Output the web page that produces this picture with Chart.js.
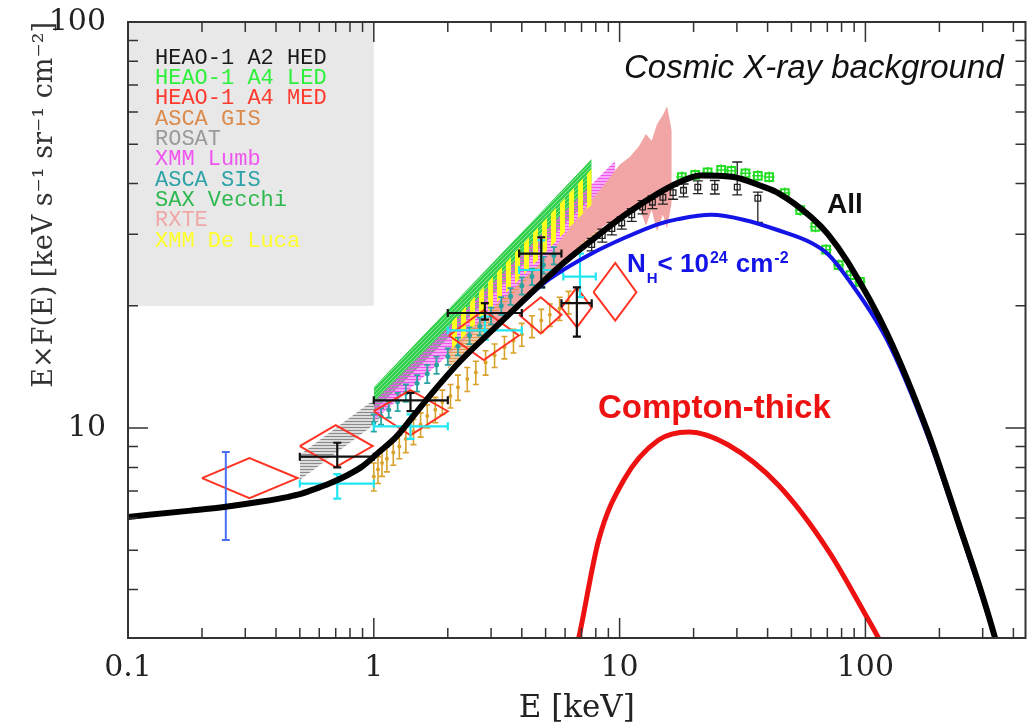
<!DOCTYPE html>
<html>
<head>
<meta charset="utf-8">
<script src="https://cdn.jsdelivr.net/npm/chart.js@4.4.0/dist/chart.umd.min.js"></script>
<style>
  html, body { margin: 0; padding: 0; background: #fff; }
  #wrap { width: 1033px; height: 728px; }
</style>
</head>
<body>
<div id="wrap"><canvas id="mycanvas" width="1033" height="728"></canvas></div>
<script>
// E in keV, E*F(E) in keV s-1 sr-1 cm-2

// model curves
var allE = [0.1, 0.18, 0.25, 0.35, 0.45, 0.5, 0.563, 0.66, 0.773, 0.9, 1.053, 1.23, 1.43, 1.65, 2.22, 3.03, 3.89, 5.65, 7.7, 10.6, 14.4, 17.3, 21.4, 28.6, 38.8, 44.2, 60.1, 70.5, 84.9, 123, 179, 237, 300, 339, 380];
var allF = [6.04, 6.26, 6.40, 6.59, 6.77, 6.87, 7.04, 7.3, 7.63, 8.05, 8.74, 9.5, 10.6, 11.8, 14.5, 17.4, 20.1, 24.9, 29.0, 33.6, 37.9, 40.2, 41.9, 41.6, 39.2, 37.9, 33.1, 30.0, 25.6, 17.0, 9.8, 5.93, 3.85, 3.0, 2.3];

var nhE = [0.1, 0.18, 0.25, 0.35, 0.45, 0.5, 0.563, 0.66, 0.773, 0.9, 1.053, 1.23, 1.43, 1.65, 2.22, 3.03, 3.89, 5.0, 7.7, 10.6, 14.4, 17.3, 23.6, 32.5, 44.2, 60.1, 70.5, 84.9, 123, 179, 237, 300, 339, 380];
var nhF = [6.04, 6.26, 6.40, 6.59, 6.77, 6.87, 7.04, 7.3, 7.63, 8.05, 8.74, 9.5, 10.6, 11.8, 14.5, 17.4, 20.0, 22.9, 26.9, 29.5, 31.8, 32.7, 33.5, 32.5, 30.7, 28.6, 26.8, 23.3, 16.4, 9.6, 5.86, 3.8, 2.98, 2.25];

var ctE = [6.5, 6.82, 8.22, 10.4, 14.4, 19.1, 27.7, 44.2, 70.5, 102, 113, 125];
var ctF = [2.7, 3.04, 5.3, 7.45, 9.34, 9.78, 9.08, 7.24, 5.0, 3.4, 3.04, 2.7];

// shaded power-law bands
var rosatE = [0.5, 1.05], rosatLo = [7.45, 10.4], rosatHi = [8.6, 12.0];
var vecchiE = [1.0, 7.7], vecchiLo = [11.0, 37.0], vecchiHi = [12.6, 46.0];
var delucaE = [2.0, 7.7], delucaLo = [15.3, 35.5], delucaHi = [17.8, 43.5];
var lumbE = [1.0, 9.6], lumbLo = [10.4, 35.0], lumbHi = [11.6, 45.5];
var gisE = [2.0, 8.5], gisLo = [14.0, 31.0], gisHi = [15.5, 35.5];
var rxteE = [3.0, 4.0, 5.0, 6.0, 7.0, 8.0, 9.0, 10.0, 11.0, 12.0, 12.8, 13.5, 14.2, 15.0, 15.6, 16.3];
var rxteLo = [17.0, 20.5, 23.5, 26.0, 28.5, 30.5, 32.0, 33.0, 34.0, 35.0, 31.5, 34.5, 30.5, 33.5, 31.0, 36.0];
var rxteHi = [18.5, 22.5, 26.0, 30.0, 34.0, 37.5, 41.0, 44.5, 46.5, 49.5, 53.0, 51.0, 56.0, 59.0, 62.0, 54.0];

// data points
var goldE = [1.0, 1.04, 1.08, 1.13, 1.2, 1.27, 1.35, 1.45, 1.55, 1.65, 1.78, 1.9, 2.05, 2.2, 2.4, 2.6, 2.85, 3.1, 3.4, 3.7, 4.0, 4.4, 4.8, 5.2, 5.7, 6.2];
var goldF = [7.6, 7.9, 8.2, 8.4, 8.7, 9.0, 9.4, 9.8, 10.2, 10.7, 11.1, 11.6, 12.0, 12.6, 13.2, 13.7, 14.5, 15.1, 15.8, 16.4, 17.0, 17.8, 18.4, 19.0, 19.7, 20.4];
var goldErr = [0.6, 0.6, 0.6, 0.6, 0.6, 0.6, 0.7, 0.7, 0.7, 0.7, 0.8, 0.8, 0.8, 0.9, 0.9, 0.9, 1.0, 1.0, 1.0, 1.1, 1.1, 1.1, 1.2, 1.2, 1.3, 1.3];

var tealE = [1.0, 1.07, 1.15, 1.25, 1.35, 1.5, 1.65, 1.8, 2.0, 2.2, 2.45, 2.7, 3.0, 3.3, 3.6, 4.0, 4.4, 4.9, 5.4];
var tealF = [10.3, 10.7, 11.1, 11.6, 12.2, 12.9, 13.6, 14.3, 15.0, 15.9, 16.9, 17.8, 18.9, 20.0, 21.1, 22.4, 23.6, 25.2, 26.6];
var tealErr = [0.5, 0.5, 0.5, 0.6, 0.6, 0.6, 0.7, 0.7, 0.7, 0.8, 0.8, 0.9, 0.9, 1.0, 1.0, 1.1, 1.1, 1.2, 1.3];

var medE = [0.312, 0.70, 1.41, 2.8, 4.78, 6.7, 9.6];
var medElo = [0.2, 0.5, 1.0, 2.02, 3.9, 5.8, 7.83];
var medEhi = [0.49, 0.99, 2.0, 3.89, 5.8, 7.7, 11.7];
var medF = [7.53, 9.03, 11.0, 16.9, 19.0, 19.8, 21.6];
var medFlo = [6.72, 8.01, 9.6, 14.7, 17.1, 17.7, 18.4];
var medFhi = [8.43, 10.17, 12.4, 19.5, 21.0, 22.2, 25.5];

var crossE = [0.71, 1.41, 2.83, 4.8, 6.7];
var crossElo = [0.5, 1.0, 2.0, 3.9, 5.8];
var crossEhi = [1.0, 2.0, 4.0, 5.8, 7.7];
var crossF = [8.5, 11.7, 19.2, 26.9, 20.3];
var crossFlo = [8.0, 11.0, 18.5, 22.2, 16.8];
var crossFhi = [9.2, 12.2, 20.3, 29.5, 22.2];

var cyanE = [0.71, 1.41, 2.83, 4.8, 6.9];
var cyanElo = [0.5, 1.0, 2.0, 3.9, 5.9];
var cyanEhi = [1.0, 2.0, 4.0, 5.8, 8.0];
var cyanF = [7.3, 10.1, 17.4, 24.5, 23.6];
var cyanFlo = [6.7, 9.4, 16.5, 22.2, 21.0];
var cyanFhi = [7.7, 10.8, 18.8, 29.0, 26.9];

var hedE = [7.7, 8.5, 9.3, 10.2, 11.2, 12.4, 13.6, 15.0, 16.5, 18.2, 20.8, 24.4, 30.1, 36.5];
var hedF = [28.3, 29.8, 31.0, 32.0, 33.5, 35.0, 36.0, 37.0, 38.0, 38.5, 39.2, 39.2, 39.2, 36.8];
var hedFlo = [27.3, 28.7, 29.9, 30.9, 32.3, 33.7, 34.7, 35.6, 36.6, 37.1, 37.8, 37.7, 37.5, 32.1];
var hedFhi = [29.3, 30.9, 32.1, 33.1, 34.7, 36.3, 37.3, 38.4, 39.4, 39.9, 40.6, 40.7, 45.2, 38.1];

var ledE = [17.9, 20.3, 22.8, 25.9, 28.5, 32.5, 36.5, 40.6, 47, 54.3, 62.6, 69.2, 77.8, 87, 95];
var ledF = [41.5, 42.0, 42.6, 43.2, 43.0, 42.4, 41.8, 41.5, 37.9, 34.4, 31.3, 27.5, 25.2, 23.8, 22.9];

var blueE = [0.25], blueF = [6.8], blueFlo = [5.3], blueFhi = [8.73];

var legendNames = ['HEAO-1 A2 HED', 'HEAO-1 A4 LED', 'HEAO-1 A4 MED', 'ASCA GIS', 'ROSAT', 'XMM Lumb', 'ASCA SIS', 'SAX Vecchi', 'RXTE', 'XMM De Luca'];
var legendColors = ['#1a1a1a', '#2ef03a', '#ff3b30', '#dc8a4c', '#9a9a9a', '#f055f0', '#2ea3a8', '#2fb84f', '#f0a8a8', '#ffff2a'];

var xTicks = [0.1, 1, 10, 100];
var yTicks = [10, 100];

function pts(xs, ys) {
  var out = [];
  for (var i = 0; i < xs.length; i++) out.push({x: xs[i], y: ys[i]});
  return out;
}

function diamonds() {
  var out = [];
  for (var i = 0; i < medE.length; i++) {
    out.push({x: medElo[i], y: medF[i]}, {x: medE[i], y: medFhi[i]}, {x: medEhi[i], y: medF[i]},
             {x: medE[i], y: medFlo[i]}, {x: medElo[i], y: medF[i]}, {x: NaN, y: NaN});
  }
  return out;
}

function hatch(color, kind, gap, lw) {
  var c = document.createElement('canvas');
  c.width = gap; c.height = gap;
  var g = c.getContext('2d');
  g.strokeStyle = color; g.lineWidth = lw;
  g.beginPath();
  if (kind === 'h') { g.moveTo(0, gap / 2); g.lineTo(gap, gap / 2); }
  else if (kind === 'v') { g.moveTo(gap / 2, 0); g.lineTo(gap / 2, gap); }
  else {
    g.moveTo(-1, gap + 1); g.lineTo(gap + 1, -1);
    g.moveTo(-1, 1); g.lineTo(1, -1);
    g.moveTo(gap - 1, gap + 1); g.lineTo(gap + 1, gap - 1);
  }
  g.stroke();
  return g.createPattern(c, 'repeat');
}

function band(xs, lo, hi, fillStyle, order) {
  return [
    {data: pts(xs, lo), showLine: true, borderWidth: 0, pointRadius: 0, order: order},
    {data: pts(xs, hi), showLine: true, borderWidth: 0, pointRadius: 0, order: order, fill: '-1', backgroundColor: fillStyle}
  ];
}

function curve(xs, ys, color, width, order) {
  return {data: pts(xs, ys), showLine: true, borderColor: color, borderWidth: width, pointRadius: 0,
          cubicInterpolationMode: 'monotone', order: order, clip: 0};
}

var datasets = [];
datasets = datasets.concat(band(rosatE, rosatLo, rosatHi, hatch('#8a8a8a', 'h', 3, 1.6), 20));
datasets = datasets.concat(band(vecchiE, vecchiLo, vecchiHi, hatch('#2fd04a', 'd', 4, 2.5), 19));
datasets = datasets.concat(band(lumbE, lumbLo, lumbHi, hatch('#ee55ee', 'h', 3, 2), 18));
datasets = datasets.concat(band(gisE, gisLo, gisHi, hatch('#e3974f', 'h', 3, 2), 17));
datasets = datasets.concat(band(rxteE, rxteLo, rxteHi, '#f2a5a5', 16));
datasets = datasets.concat(band(delucaE, delucaLo, delucaHi, hatch('#ffff20', 'v', 9, 5), 15));

datasets.push({data: pts(goldE, goldF), pointRadius: 2, pointBackgroundColor: '#d9a22a', pointBorderWidth: 0, order: 12,
  errorBars: {x: goldE, y: goldF, err: goldErr, color: '#d9a22a', width: 1.6, cap: 3}});
datasets.push({data: pts(tealE, tealF), pointRadius: 2.5, pointBackgroundColor: '#2aa3a3', pointBorderWidth: 0, order: 11,
  errorBars: {x: tealE, y: tealF, err: tealErr, color: '#2aa3a3', width: 1.8, cap: 3}});
datasets.push({data: diamonds(), showLine: true, spanGaps: false, borderColor: '#ff3322', borderWidth: 2, pointRadius: 0, order: 10});
datasets.push({data: pts(cyanE, cyanF), pointRadius: 0, order: 9,
  errorBars: {x: cyanE, y: cyanF, ylo: cyanFlo, yhi: cyanFhi, xlo: cyanElo, xhi: cyanEhi, color: '#22e6f2', width: 2.2, cap: 4}});
datasets.push({data: pts(blueE, blueF), pointRadius: 0, order: 9,
  errorBars: {x: blueE, y: blueF, ylo: blueFlo, yhi: blueFhi, color: '#4a6ef0', width: 2, cap: 4}});
datasets.push({data: pts(crossE, crossF), pointRadius: 0, order: 8,
  errorBars: {x: crossE, y: crossF, ylo: crossFlo, yhi: crossFhi, xlo: crossElo, xhi: crossEhi, color: '#111', width: 2.2, cap: 4}});
datasets.push({data: pts(hedE, hedF), pointStyle: 'rect', pointRadius: 4, pointBorderColor: '#222', pointBorderWidth: 1.3,
  pointBackgroundColor: 'rgba(0,0,0,0)', order: 7,
  errorBars: {x: hedE, y: hedF, ylo: hedFlo, yhi: hedFhi, color: '#222', width: 1.3, cap: 5}});
datasets.push({data: pts(ledE, ledF), pointStyle: 'rect', pointRadius: 5.5, pointBorderColor: '#22dd22', pointBorderWidth: 2,
  pointBackgroundColor: 'rgba(0,0,0,0)', order: 6});
datasets.push({data: pts(ledE, ledF), pointStyle: 'cross', pointRadius: 5.5, pointBorderColor: '#22dd22', pointBorderWidth: 1.5, order: 6});

datasets.push(curve(ctE, ctF, '#ee1111', 5, 3));
datasets.push(curve(nhE, nhF, '#1414e6', 4, 2));
datasets.push(curve(allE, allF, '#000000', 6, 1));

var errorBars = {
  id: 'errorBars',
  afterDatasetDraw: function(chart, args) {
    var eb = chart.data.datasets[args.index].errorBars;
    if (!eb) return;
    var xs = chart.scales.x, ys = chart.scales.y, ctx = chart.ctx, a = chart.chartArea;
    ctx.save();
    ctx.beginPath();
    ctx.rect(a.left, a.top, a.right - a.left, a.bottom - a.top);
    ctx.clip();
    ctx.strokeStyle = eb.color;
    ctx.lineWidth = eb.width;
    ctx.beginPath();
    for (var i = 0; i < eb.x.length; i++) {
      var px = xs.getPixelForValue(eb.x[i]), py = ys.getPixelForValue(eb.y[i]);
      var lo = eb.ylo ? eb.ylo[i] : (eb.err ? eb.y[i] - eb.err[i] : null);
      var hi = eb.yhi ? eb.yhi[i] : (eb.err ? eb.y[i] + eb.err[i] : null);
      if (lo !== null) {
        var y1 = ys.getPixelForValue(lo), y2 = ys.getPixelForValue(hi);
        ctx.moveTo(px, y1); ctx.lineTo(px, y2);
        ctx.moveTo(px - eb.cap, y1); ctx.lineTo(px + eb.cap, y1);
        ctx.moveTo(px - eb.cap, y2); ctx.lineTo(px + eb.cap, y2);
      }
      if (eb.xlo) {
        var x1 = xs.getPixelForValue(eb.xlo[i]), x2 = xs.getPixelForValue(eb.xhi[i]);
        ctx.moveTo(x1, py); ctx.lineTo(x2, py);
        ctx.moveTo(x1, py - eb.cap); ctx.lineTo(x1, py + eb.cap);
        ctx.moveTo(x2, py - eb.cap); ctx.lineTo(x2, py + eb.cap);
      }
    }
    ctx.stroke();
    ctx.restore();
  }
};

var decor = {
  id: 'decor',
  beforeDatasetsDraw: function(chart) {
    var ctx = chart.ctx, xs = chart.scales.x, ys = chart.scales.y;
    // grey legend panel
    var x0 = xs.getPixelForValue(xs.min), x1 = xs.getPixelForValue(1);
    var y0 = ys.getPixelForValue(ys.max), y1 = ys.getPixelForValue(20);
    ctx.save();
    ctx.fillStyle = '#e8e8e8';
    ctx.fillRect(x0, y0, x1 - x0, y1 - y0);
    ctx.font = '22px "Liberation Mono"';
    ctx.textBaseline = 'middle';
    for (var i = 0; i < legendNames.length; i++) {
      ctx.fillStyle = legendColors[i];
      ctx.fillText(legendNames[i], x0 + 27, y0 + 36 + i * 20.3);
    }
    ctx.restore();
  },
  afterDatasetsDraw: function(chart) {
    var ctx = chart.ctx, a = chart.chartArea, xs = chart.scales.x, ys = chart.scales.y;
    ctx.save();
    ctx.strokeStyle = '#333';
    ctx.lineWidth = 1.5;
    ctx.beginPath();
    for (var d = 0; d < xTicks.length; d++) {
      for (var k = 1; k < 10; k++) {
        var v = xTicks[d] * k;
        if (v < xs.min || v > xs.max) continue;
        var px = xs.getPixelForValue(v), len = k === 1 ? 20 : 10;
        ctx.moveTo(px, a.bottom); ctx.lineTo(px, a.bottom - len);
        ctx.moveTo(px, a.top); ctx.lineTo(px, a.top + len);
      }
    }
    var yDec = [1, 10, 100];
    for (d = 0; d < yDec.length; d++) {
      for (k = 1; k < 10; k++) {
        v = yDec[d] * k;
        if (v < ys.min || v > ys.max) continue;
        var py = ys.getPixelForValue(v);
        len = k === 1 ? 20 : 10;
        ctx.moveTo(a.left, py); ctx.lineTo(a.left + len, py);
        ctx.moveTo(a.right, py); ctx.lineTo(a.right - len, py);
      }
    }
    ctx.stroke();
    ctx.lineWidth = 2;
    ctx.strokeRect(a.left, a.top, a.right - a.left, a.bottom - a.top);

    // annotations
    ctx.textBaseline = 'alphabetic';
    ctx.fillStyle = '#111';
    ctx.font = 'italic 33px "Liberation Sans"';
    ctx.fillText('Cosmic X-ray background', 624, 78);
    ctx.font = 'bold 28px "Liberation Sans"';
    ctx.fillText('All', 827, 213);
    ctx.fillStyle = '#ee1111';
    ctx.font = 'bold 33px "Liberation Sans"';
    ctx.fillText('Compton-thick', 598, 418);
    ctx.fillStyle = '#1414e6';
    var x = 627;
    ctx.font = 'bold 26px "Liberation Sans"';
    ctx.fillText('N', x, 272); x += ctx.measureText('N').width + 1;
    ctx.font = 'bold 15px "Liberation Sans"';
    ctx.fillText('H', x, 283); x += ctx.measureText('H').width;
    ctx.font = 'bold 26px "Liberation Sans"';
    ctx.fillText('< 10', x, 272); x += ctx.measureText('< 10').width + 1;
    ctx.font = 'bold 16px "Liberation Sans"';
    ctx.fillText('24', x, 263); x += ctx.measureText('24').width + 8;
    ctx.font = 'bold 26px "Liberation Sans"';
    ctx.fillText('cm', x, 272); x += ctx.measureText('cm').width + 1;
    ctx.font = 'bold 16px "Liberation Sans"';
    ctx.fillText('-2', x, 263);
    ctx.restore();
  }
};

var ctx = document.getElementById('mycanvas');

var chart = new Chart(ctx, {
  type: 'scatter',
  data: {datasets: datasets},
  options: {
    responsive: false,
    animation: false,
    devicePixelRatio: 1,
    layout: {padding: {top: 22, right: 5, left: 0, bottom: 0}},
    plugins: {legend: {display: false}, tooltip: {enabled: false}},
    scales: {
      x: {
        type: 'logarithmic',
        min: 0.1,
        max: 448,
        grid: {display: false, drawTicks: false},
        border: {display: false},
        afterBuildTicks: function(scale) {
          scale.ticks = xTicks.map(function(v) { return {value: v}; });
        },
        afterFit: function(scale) {
          scale.height = 90;
          scale.paddingLeft = 0;
          scale.paddingRight = 0;
        },
        ticks: {
          autoSkip: false, maxRotation: 0, padding: 12, color: '#222',
          font: {family: 'DejaVu Serif', size: 30},
          callback: function(v) { return String(v); }
        },
        title: {display: true, text: 'E [keV]', color: '#222', padding: {top: 0, bottom: 0},
          font: {family: 'DejaVu Serif', size: 31}}
      },
      y: {
        type: 'logarithmic',
        min: 3.04,
        max: 100,
        grid: {display: false, drawTicks: false},
        border: {display: false},
        afterBuildTicks: function(scale) {
          scale.ticks = yTicks.map(function(v) { return {value: v}; });
        },
        afterFit: function(scale) {
          scale.width = 128;
          scale.paddingTop = 0;
          scale.paddingBottom = 0;
        },
        ticks: {
          autoSkip: false, padding: 22, color: '#222',
          font: {family: 'DejaVu Serif', size: 30},
          callback: function(v) { return String(v); }
        },
        title: {display: true, text: 'E\u00d7F(E) [keV s\u207b\u00b9 sr\u207b\u00b9 cm\u207b\u00b2]', align: 'end', color: '#333',
          padding: {top: 29, bottom: 0}, font: {family: 'DejaVu Serif', size: 27}}
      }
    }
  },
  plugins: [errorBars, decor]
});
</script>
</body>
</html>
